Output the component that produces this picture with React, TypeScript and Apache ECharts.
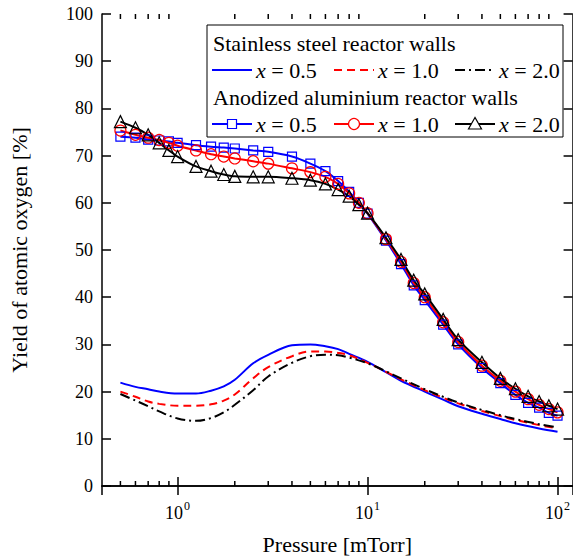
import React, { useEffect, useRef } from 'react';
import * as echarts from 'echarts';

const FONT = '"Liberation Serif", "Times New Roman", serif';

// Anodized aluminium reactor walls (markers + line)
const PRESSURE = [0.5, 0.6, 0.7, 0.8, 0.9, 1, 1.25, 1.5, 1.75, 2, 2.5, 3, 4, 5, 6, 7, 8, 9, 10, 12.5, 15, 17.5, 20, 25, 30, 40, 50, 60, 70, 80, 90, 100];
const ANOD_X05 = [74.0, 73.8, 73.4, 73.2, 73.0, 72.7, 72.2, 71.9, 71.7, 71.5, 71.1, 70.8, 69.8, 68.3, 66.7, 64.6, 62.3, 60.0, 57.7, 52.0, 47.0, 42.5, 39.4, 34.2, 30.0, 25.0, 21.8, 19.3, 17.6, 16.6, 15.5, 14.9];
const ANOD_X10 = [75.3, 74.4, 73.8, 73.3, 72.7, 72.1, 71.1, 70.3, 69.8, 69.4, 68.8, 68.3, 67.3, 66.5, 65.5, 64.0, 62.0, 60.0, 57.8, 52.3, 47.5, 43.0, 40.0, 34.7, 30.5, 25.5, 22.3, 20.0, 18.4, 17.2, 16.3, 15.6];
const ANOD_X20 = [77.2, 75.9, 74.4, 72.7, 71.1, 69.8, 67.7, 66.7, 66.0, 65.6, 65.5, 65.5, 65.2, 64.8, 64.0, 62.8, 61.4, 59.6, 57.8, 52.6, 48.0, 43.6, 40.7, 35.3, 31.0, 26.2, 22.8, 20.6, 19.0, 17.9, 17.0, 16.3];

// Stainless steel reactor walls (lines only)
const SS_PRESSURE = [0.5, 0.6, 0.7, 0.8, 1, 1.25, 1.5, 1.75, 2, 2.5, 3, 4, 5, 6, 7, 8, 10, 12.5, 15, 20, 25, 30, 40, 50, 60, 80, 100];
const SS_X05 = [21.9, 21.0, 20.5, 20.0, 19.6, 19.6, 20.2, 21.1, 22.5, 26.0, 27.8, 29.8, 30.0, 29.6, 29.0, 28.0, 26.3, 24.1, 22.3, 20.0, 18.3, 16.9, 15.3, 14.2, 13.3, 12.2, 11.5];
const SS_X10 = [20.0, 18.9, 17.9, 17.4, 17.0, 17.0, 17.3, 18.1, 19.4, 22.8, 25.2, 27.5, 28.5, 28.5, 28.2, 27.7, 26.1, 24.2, 22.6, 20.3, 18.7, 17.5, 15.9, 14.8, 14.0, 12.9, 12.2];
const SS_X20 = [19.5, 18.1, 16.9, 15.8, 14.3, 13.8, 14.4, 15.6, 17.2, 20.3, 23.2, 26.1, 27.5, 27.8, 27.7, 27.2, 26.0, 24.3, 22.8, 20.5, 18.9, 17.7, 16.1, 15.0, 14.2, 13.1, 12.4];

const MINOR_TICKS = [0.5, 0.6, 0.7, 0.8, 0.9, 2, 3, 4, 5, 6, 7, 8, 9, 20, 30, 40, 50, 60, 70, 80, 90];
const X_MIN = 0.4;
const X_MAX = 120;
const Y_MIN = 0;
const Y_MAX = 100;
const Y_STEP = 10;

const LEGEND_LABELS = ['0.5', '1.0', '2.0'];
const HEADER_SS = 'Stainless steel reactor walls';
const HEADER_AN = 'Anodized aluminium reactor walls';

const BLUE = '#0000ff';
const RED = '#ff0000';
const BLACK = '#000000';

function buildOption() {
  const pairs = (xs: number[], ys: number[]) => xs.map((x, i) => [x, ys[i]]);

  const lineSeries = (name: string, ys: number[], color: string, type: any) => ({
    name,
    type: 'line',
    data: pairs(SS_PRESSURE, ys),
    smooth: 0.35,
    symbol: 'none',
    lineStyle: { color, width: 2, type },
    z: 3,
  });

  const markSeries = (name: string, ys: number[], color: string, symbol: string, size: number) => ({
    name,
    type: 'line',
    data: pairs(PRESSURE, ys),
    smooth: 0.3,
    symbol,
    symbolSize: size,
    showAllSymbol: true,
    itemStyle: { color: 'rgba(0,0,0,0)', borderColor: color, borderWidth: 1.2 },
    lineStyle: { color, width: 2 },
    z: 4,
  });

  const axisCommon = {
    axisLine: { show: true, lineStyle: { color: '#000', width: 1.5 } },
    axisTick: { show: true, inside: true, length: 9, lineStyle: { color: '#000', width: 1.5 } },
    splitLine: { show: false },
  };

  const legendX = [212, 334, 455];
  const colors = [BLUE, RED, BLACK];
  const dashes: any[] = ['solid', [8, 5], [10, 4, 2, 4]];
  const graphics: any[] = [
    {
      type: 'rect',
      shape: { x: 207, y: 25, width: 356, height: 112 },
      style: { fill: '#fff', stroke: '#000', lineWidth: 1 },
      z: 100,
    },
    {
      type: 'text',
      x: 213,
      y: 43,
      style: { text: HEADER_SS, font: `22px ${FONT}`, fill: '#000', verticalAlign: 'middle' },
      z: 101,
    },
    {
      type: 'text',
      x: 213,
      y: 97,
      style: { text: HEADER_AN, font: `22px ${FONT}`, fill: '#000', verticalAlign: 'middle' },
      z: 101,
    },
  ];
  const rows = [70, 124];
  rows.forEach((ry, r) => {
    legendX.forEach((lx, i) => {
      graphics.push({
        type: 'line',
        shape: { x1: lx, y1: ry, x2: lx + 40, y2: ry },
        style: { stroke: colors[i], lineWidth: 2, lineDash: r === 0 && i > 0 ? dashes[i] : null },
        z: 101,
      });
      graphics.push({
        type: 'text',
        x: lx + 44,
        y: ry,
        style: {
          text: `{i|x} = ${LEGEND_LABELS[i]}`,
          font: `22px ${FONT}`,
          fill: '#000',
          verticalAlign: 'middle',
          rich: { i: { fontStyle: 'italic', fontSize: 22, fontFamily: FONT, fill: '#000' } },
        },
        z: 101,
      });
      if (r === 1) {
        const cx = lx + 20;
        if (i === 0) {
          graphics.push({ type: 'rect', shape: { x: cx - 4.5, y: ry - 4.5, width: 9, height: 9 }, style: { fill: '#fff', stroke: BLUE, lineWidth: 1.2 }, z: 102 });
        } else if (i === 1) {
          graphics.push({ type: 'circle', shape: { cx, cy: ry, r: 5.5 }, style: { fill: '#fff', stroke: RED, lineWidth: 1.2 }, z: 102 });
        } else {
          graphics.push({ type: 'polygon', shape: { points: [[cx, ry - 6.5], [cx - 6.5, ry + 5], [cx + 6.5, ry + 5]] }, style: { fill: '#fff', stroke: BLACK, lineWidth: 1.2 }, z: 102 });
        }
      }
    });
  });

  return {
    animation: false,
    backgroundColor: '#fff',
    textStyle: { fontFamily: FONT, color: '#000' },
    grid: { left: 101, top: 14, width: 478, height: 477, containLabel: false },
    xAxis: [
      {
        type: 'log',
        logBase: 10,
        min: X_MIN,
        max: X_MAX,
        position: 'bottom',
        ...axisCommon,
        name: 'Pressure [mTorr]',
        nameLocation: 'middle',
        nameGap: 47,
        nameTextStyle: { fontFamily: FONT, fontSize: 22, color: '#000', verticalAlign: 'top' },
        axisLabel: {
          margin: 14,
          showMinLabel: false,
          showMaxLabel: false,
          formatter: (v: number) => {
            const l = Math.log10(v);
            const e = Math.round(l);
            if (Math.abs(l - e) > 1e-6) return '';
            return `{b|10}{s|${e}}`;
          },
          rich: {
            b: { fontFamily: FONT, fontSize: 18, color: '#000', lineHeight: 22, verticalAlign: 'bottom' },
            s: { fontFamily: FONT, fontSize: 12, color: '#000', lineHeight: 22, verticalAlign: 'top', padding: [0, 0, 0, 1] },
          },
        },
      },
      {
        type: 'log',
        logBase: 10,
        min: X_MIN,
        max: X_MAX,
        position: 'top',
        ...axisCommon,
        axisLabel: { show: false },
      },
    ],
    yAxis: [
      {
        type: 'value',
        min: Y_MIN,
        max: Y_MAX,
        interval: Y_STEP,
        position: 'left',
        ...axisCommon,
        name: 'Yield of atomic oxygen [%]',
        nameLocation: 'middle',
        nameGap: 72,
        nameRotate: 90,
        nameTextStyle: { fontFamily: FONT, fontSize: 22, color: '#000' },
        axisLabel: { margin: 9, fontFamily: FONT, fontSize: 18, color: '#000' },
      },
      {
        type: 'value',
        min: Y_MIN,
        max: Y_MAX,
        interval: Y_STEP,
        position: 'right',
        ...axisCommon,
        axisLabel: { show: false },
      },
    ],
    series: [
      lineSeries('SS x=0.5', SS_X05, BLUE, 'solid'),
      lineSeries('SS x=1.0', SS_X10, RED, [8, 5]),
      lineSeries('SS x=2.0', SS_X20, BLACK, [10, 4, 2, 4]),
      markSeries('AN x=0.5', ANOD_X05, BLUE, 'rect', 9),
      markSeries('AN x=1.0', ANOD_X10, RED, 'circle', 11),
      markSeries('AN x=2.0', ANOD_X20, BLACK, 'triangle', 12),
      {
        type: 'custom',
        silent: true,
        clip: false,
        z: 6,
        data: MINOR_TICKS.map((v) => [v, Y_MIN]),
        renderItem: (_params: any, api: any) => {
          const v = api.value(0);
          const b = api.coord([v, Y_MIN]);
          const t = api.coord([v, Y_MAX]);
          const st = { stroke: '#000', lineWidth: 1.5 };
          return {
            type: 'group',
            children: [
              { type: 'line', shape: { x1: b[0], y1: b[1], x2: b[0], y2: b[1] - 5 }, style: st },
              { type: 'line', shape: { x1: t[0], y1: t[1], x2: t[0], y2: t[1] + 5 }, style: st },
            ],
          };
        },
      },
    ],
    graphic: graphics,
  };
}

export default function App() {
  const ref = useRef<HTMLDivElement>(null);
  useEffect(() => {
    document.body.style.margin = '0';
    if (!ref.current) return;
    const chart = echarts.init(ref.current, null, { renderer: 'svg' });
    chart.setOption(buildOption() as any);
    return () => chart.dispose();
  }, []);
  return <div ref={ref} style={{ width: 573, height: 560, overflow: 'hidden' }} />;
}
